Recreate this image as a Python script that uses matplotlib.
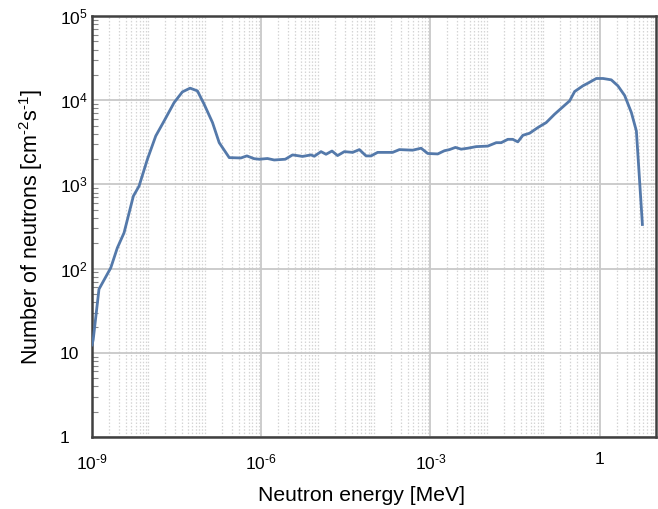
import numpy as np
import matplotlib
matplotlib.use("Agg")
from matplotlib import pyplot as plt
from matplotlib import ticker

plt.rcParams['font.family'] = ['Liberation Sans', 'DejaVu Sans']
plt.rcParams['mathtext.fontset'] = 'custom'
plt.rcParams['mathtext.rm'] = 'Liberation Sans'
plt.rcParams['mathtext.it'] = 'Liberation Sans:italic'
plt.rcParams['mathtext.bf'] = 'Liberation Sans:bold'

# neutron energy [MeV] and flux [cm^-2 s^-1]
energy = [1.0e-9, 1.05e-9, 1.33e-9, 2.15e-9, 2.81e-9, 3.70e-9, 5.41e-9, 6.83e-9,
          9.59e-9, 1.35e-8, 1.90e-8, 2.86e-8, 4.01e-8, 5.49e-8, 7.40e-8, 9.73e-8,
          1.37e-7, 1.80e-7, 2.71e-7, 4.36e-7, 5.57e-7, 7.51e-7, 9.23e-7, 1.29e-6,
          1.70e-6, 2.67e-6, 3.60e-6, 5.41e-6, 7.62e-6, 8.73e-6, 1.15e-5, 1.41e-5,
          1.80e-5, 2.26e-5, 2.98e-5, 4.18e-5, 5.50e-5, 7.23e-5, 8.87e-5, 1.16e-4,
          2.14e-4, 2.82e-4, 4.85e-4, 6.84e-4, 8.97e-4, 1.35e-3, 1.77e-3, 2.18e-3,
          2.78e-3, 3.51e-3, 4.60e-3, 6.49e-3, 1.04e-2, 1.47e-2, 1.80e-2, 2.36e-2,
          2.89e-2, 3.55e-2, 4.36e-2, 5.73e-2, 8.04e-2, 0.113, 0.159, 0.223, 0.294,
          0.361, 0.506, 0.621, 0.875, 1.15, 1.61, 2.11, 2.78, 3.66, 4.49, 5.74]
flux = [12.4, 14.3, 57, 102, 176, 266, 726, 955,
        1985, 3760, 5670, 9380, 12560, 13900, 12900, 8960,
        5420, 3130, 2080, 2060, 2180, 2020, 1990, 2030,
        1950, 1990, 2240, 2150, 2240, 2160, 2450, 2280,
        2490, 2200, 2450, 2400, 2590, 2180, 2180, 2400,
        2400, 2590, 2550, 2690, 2330, 2300, 2510, 2590,
        2750, 2620, 2690, 2810, 2850, 3130, 3130, 3430,
        3430, 3200, 3830, 4050, 4730, 5420, 6810, 8330, 9820,
        12680, 14820, 15930, 18110, 18110, 17450, 14820, 11380, 7130, 4310, 334]

xticks = [1e-9, 1e-6, 1e-3, 1]
xticklabels = ['$10^{\u20109}$', '$10^{\u20106}$', '$10^{\u20103}$', '1']
yticks = [1, 10, 1e2, 1e3, 1e4, 1e5]
yticklabels = ['1', '10', '$10^2$', '$10^3$', '$10^4$', '$10^5$']

fig = plt.figure(figsize=(6.58, 5.09), dpi=100)
ax = fig.add_axes([92 / 658, 72 / 509, 564 / 658, 421 / 509])

ax.plot(energy, flux, color='#5479aa', lw=2, zorder=3)

ax.set_xscale('log')
ax.set_yscale('log')
ax.set_xlim(1e-9, 10)
ax.set_ylim(1, 1e5)

ax.xaxis.set_major_locator(ticker.FixedLocator(xticks))
ax.xaxis.set_major_formatter(ticker.FixedFormatter(xticklabels))
ax.xaxis.set_minor_locator(ticker.LogLocator(base=10, subs=np.arange(1, 10), numticks=100))
ax.xaxis.set_minor_formatter(ticker.NullFormatter())
ax.yaxis.set_major_locator(ticker.FixedLocator(yticks))
ax.yaxis.set_major_formatter(ticker.FixedFormatter(yticklabels))
ax.yaxis.set_minor_locator(ticker.LogLocator(base=10, subs=np.arange(2, 10), numticks=100))
ax.yaxis.set_minor_formatter(ticker.NullFormatter())

ax.grid(True, which='major', color='#c8c8c8', lw=1.3, zorder=1)
ax.grid(True, which='minor', axis='x', color='#d4d4d4', lw=0.9, ls=(0, (1.2, 1.5)), zorder=1)

ax.tick_params(axis='x', which='both', length=0, pad=11, labelsize=12.5)
ax.tick_params(axis='y', which='major', length=0, pad=23, labelsize=12.5)
ax.tick_params(axis='y', which='minor', direction='in', length=4, width=0.8, color='#888888')
for lbl in ax.get_yticklabels():
    lbl.set_horizontalalignment('left')

for sp in ax.spines.values():
    sp.set_color('#404040')
    sp.set_linewidth(1.8)

ax.set_xlabel('Neutron energy [MeV]', fontsize=15.2)
ax.xaxis.set_label_coords(0.478, -0.116)
ax.set_ylabel('Number of neutrons [cm$^{\u20102}$s$^{\u20101}$]', fontsize=15.5, labelpad=11)

fig.savefig('out.png', dpi=100)
